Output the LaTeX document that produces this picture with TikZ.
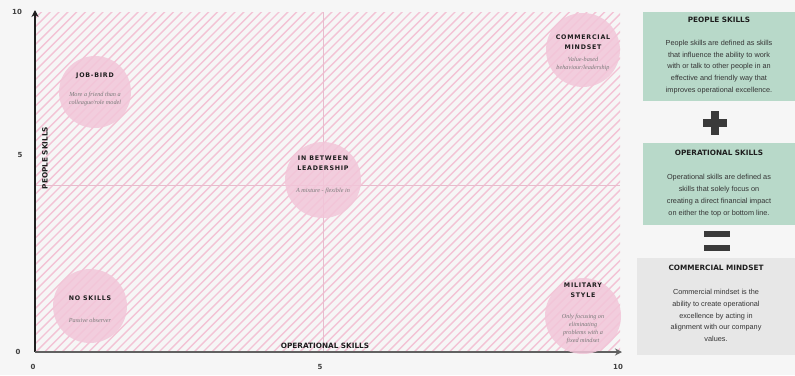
\documentclass[tikz,border=0pt]{standalone}
\usepackage{fontspec}
\setmainfont{Liberation Sans}
\newfontfamily\hdfont{DejaVu Sans}[LetterSpace=12]
\newfontfamily\hdplain{DejaVu Sans}
\newfontfamily\subfont{Liberation Serif}
\usetikzlibrary{arrows.meta}
\definecolor{bg}{HTML}{F6F6F6}
\definecolor{hatch}{HTML}{F3C3D5}
\definecolor{blob}{HTML}{F2C6D9}
\definecolor{greenbox}{HTML}{B8D9C9}
\definecolor{graybox}{HTML}{E7E7E7}
\definecolor{ink}{HTML}{1E1E1E}
\definecolor{sub}{HTML}{7A7A7A}
\definecolor{sym}{HTML}{3A3A3A}
\tikzset{
  ttl/.style={font=\hdfont\bfseries\fontsize{6.3}{10.5}\selectfont, text=ink, align=center, inner sep=0pt},
  subt/.style={font=\subfont\itshape\fontsize{6.2}{8.2}\selectfont, text=sub, align=center, inner sep=0pt},
  blobc/.style={circle, fill=blob, fill opacity=0.85, minimum size=#1, inner sep=0pt},
  axlab/.style={font=\hdplain\bfseries\fontsize{7.3}{8}\selectfont, text=ink, inner sep=0pt},
  tick/.style={font=\hdplain\bfseries\fontsize{7}{8}\selectfont, text=ink!85, inner sep=0pt},
  boxttl/.style={font=\hdplain\bfseries\fontsize{7.3}{8}\selectfont, text=ink, inner sep=0pt},
  boxbody/.style={font=\fontsize{7.3}{11.8}\selectfont, text=ink!90, align=center, inner sep=0pt},
}
\begin{document}
\begin{tikzpicture}[x=1pt,y=-1pt]
\fill[bg] (0,0) rectangle (795,375);
\useasboundingbox (0,0) rectangle (795,375);
% hatch
\begin{scope}
\clip (35,12) rectangle (620,352);
\foreach \i in {0,...,110} {
  \draw[hatch, line width=1.4pt] (35+\i*8.8-360,352) -- (35+\i*8.8,-8);
}
\end{scope}
% midlines
\draw[hatch!90!gray, line width=0.5pt] (323,12) -- (323,352);
\draw[hatch!90!gray, line width=0.5pt] (35,185) -- (620,185);
% axes
\coordinate (o) at (35,352);
\coordinate (ytop) at (35,10);
\coordinate (xend) at (622,352);
\draw[ink, line width=1.4pt, -{Stealth[length=7pt,width=7pt]}] (o) -- (ytop);
\draw[ink!70, line width=2pt, -{Stealth[length=7pt,width=7pt]}] (o) -- (xend);
% ticks
\node[tick] (y10) at (17,12) {10};
\node[tick] (y5) at (20,155) {5};
\node[tick] (y0) at (18,352) {0};
\node[tick] (x0) at (33,367) {0};
\node[tick] (x5) at (320,367) {5};
\node[tick] (x10) at (618,367) {10};
\node[axlab, rotate=90] (ylab) at (45,158) {PEOPLE SKILLS};
\node[axlab] (xlab) at (325,346) {OPERATIONAL SKILLS};
% circles
\node[blobc=72pt] (c1) at (95,92) {};
\node[ttl] (c1t) at (95,76) {JOB-BIRD};
\node[subt] (c1s) at (95,99) {More a friend than a\\colleague/role model};
\node[blobc=74pt] (c2) at (90,306) {};
\node[ttl] (c2t) at (90,298) {NO SKILLS};
\node[subt] (c2s) at (90,320) {Passive observer};
\node[blobc=76pt] (c3) at (323,180) {};
\node[ttl] (c3t) at (323,163) {IN BETWEEN\\LEADERSHIP};
\node[subt] (c3s) at (323,191) {A mixture - flexible in};
\node[blobc=74pt] (c4) at (583,50) {};
\node[ttl] (c4t) at (583,42) {COMMERCIAL\\MINDSET};
\node[subt] (c4s) at (583,64) {Value-based\\behaviour/leadership};
\node[blobc=76pt] (c5) at (583,316) {};
\node[ttl] (c5t) at (583,290) {MILITARY\\STYLE};
\node[subt] (c5s) at (583,329) {Only focusing on\\eliminating\\problems with a\\fixed mindset};
% right panels
\fill[greenbox] (643,12) rectangle (795,101);
\node[boxttl] (b1t) at (719,20) {PEOPLE SKILLS};
\node[boxbody] (b1b) at (719,67) {People skills are defined as skills\\that influence the ability to work\\with or talk to other people in an\\effective and friendly way that\\improves operational excellence.};
\fill[sym] (711,111) rectangle (719,135);
\fill[sym] (703,119) rectangle (727,127);
\fill[greenbox] (643,143) rectangle (795,225);
\node[boxttl] (b2t) at (719,153) {OPERATIONAL SKILLS};
\node[boxbody] (b2b) at (719,195.5) {Operational skills are defined as\\skills that solely focus on\\creating a direct financial impact\\on either the top or bottom line.};
\fill[sym] (704,231) rectangle (730,237);
\fill[sym] (704,245) rectangle (730,251);
\fill[graybox] (637,258) rectangle (795,355);
\node[boxttl] (b3t) at (716,268) {COMMERCIAL MINDSET};
\node[boxbody] (b3b) at (716,315.5) {Commercial mindset is the\\ability to create operational\\excellence by acting in\\alignment with our company\\values.};
\end{tikzpicture}
\end{document}
